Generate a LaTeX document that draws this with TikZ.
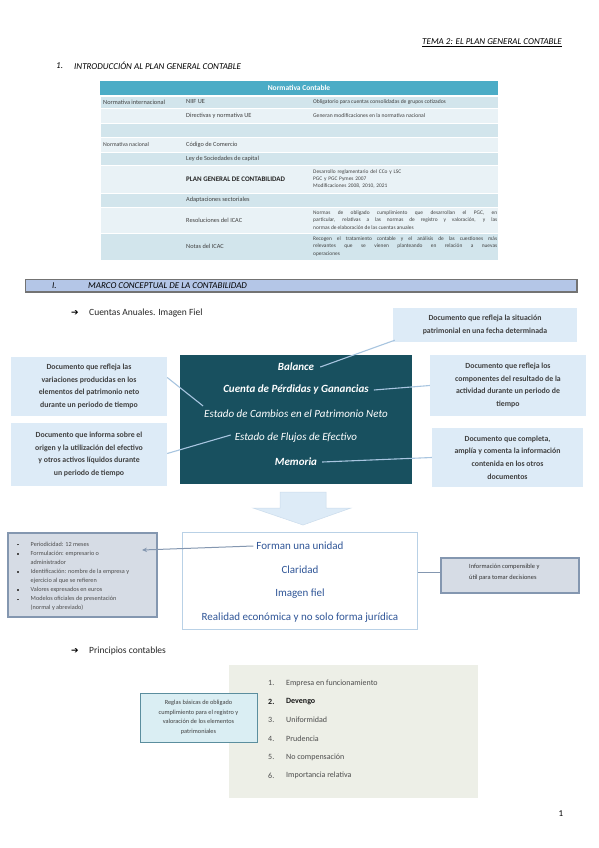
\documentclass[tikz,border=0pt]{standalone}
\usepackage{fontspec}
\setmainfont{Carlito}
\newfontfamily\symfont{DejaVu Sans}
\usetikzlibrary{arrows.meta}

\definecolor{tealhead}{HTML}{4BACC6}
\definecolor{rowdark}{HTML}{D2E5EC}
\definecolor{rowlight}{HTML}{E9F2F6}
\definecolor{barfill}{HTML}{B4C6E7}
\definecolor{calloutfill}{HTML}{DDEBF7}
\definecolor{darkteal}{HTML}{18505F}
\definecolor{linkblue}{HTML}{A8C5E0}
\definecolor{unitblue}{HTML}{2F5597}
\definecolor{slatefill}{HTML}{D6DCE5}
\definecolor{slateline}{HTML}{8497B0}
\definecolor{sagefill}{HTML}{EDEFE7}
\definecolor{reglafill}{HTML}{DAEEF3}
\definecolor{reglaline}{HTML}{5B8E9E}
\definecolor{txtgrey}{HTML}{404040}

\newcommand{\sqbul}{\rule[0.6pt]{1.5pt}{1.5pt}}

\begin{document}
\begin{tikzpicture}[x=1pt,y=-1pt,
    tabrow/.style={draw=white,line width=0.7pt},
    tabtxt/.style={anchor=west,inner sep=0pt,text=txtgrey,font=\fontsize{6.3}{7.5}\selectfont},
    tabnote/.style={anchor=west,inner sep=0pt,text=txtgrey,text width=184pt,align=justify,font=\fontsize{5.4}{7.4}\selectfont},
    callout/.style={fill=calloutfill,inner sep=0pt,align=center,text=black!75,font=\fontsize{7.8}{12.7}\selectfont\bfseries},
    doc/.style={inner sep=1pt,text=white,font=\fontsize{11}{13}\selectfont\itshape},
    link/.style={draw=linkblue,line width=1.1pt},
    rasgo/.style={inner sep=0pt,text=unitblue,font=\fontsize{11}{13}\selectfont},
    slatebox/.style={fill=slatefill,draw=slateline,line width=1.6pt,inner sep=0pt},
    principio/.style={anchor=west,inner sep=0pt,text=black!70,font=\fontsize{8}{10}\selectfont},
    heading/.style={anchor=west,inner sep=0pt,font=\fontsize{9}{11}\selectfont\itshape},
    arrowhead/.style={anchor=west,inner sep=0pt,font=\symfont\fontsize{9}{11}\selectfont}]

    \fill[white] (0,0) rectangle (599,848);
    \useasboundingbox (0,0) rectangle (599,848);

    % cabecera
    \node[heading,anchor=east] (tema) at (562,43) {\underline{TEMA 2: EL PLAN GENERAL CONTABLE}};
    \node[heading] (intronum) at (56,66) {1.};
    \node[heading] (intro) at (74,66) {INTRODUCCIÓN AL PLAN GENERAL CONTABLE};

    % tabla normativa
    \fill[tealhead] (100,81) rectangle (498,95.5);
    \node[inner sep=0pt,text=white,font=\fontsize{7.5}{9}\selectfont\bfseries] (normhead) at (299,88.3) {Normativa Contable};
    \path[tabrow,fill=rowdark] (100,96) rectangle (498,108);
    \path[tabrow,fill=rowlight] (100,108) rectangle (498,123);
    \path[tabrow,fill=rowdark] (100,123) rectangle (498,137);
    \path[tabrow,fill=rowlight] (100,137) rectangle (498,152);
    \path[tabrow,fill=rowdark] (100,152) rectangle (498,165);
    \path[tabrow,fill=rowlight] (100,165) rectangle (498,193);
    \path[tabrow,fill=rowdark] (100,193) rectangle (498,207);
    \path[tabrow,fill=rowlight] (100,207) rectangle (498,233);
    \path[tabrow,fill=rowdark] (100,233) rectangle (498,260);

    \node[tabtxt] (ninter) at (103,102) {Normativa internacional};
    \node[tabtxt] (niif) at (186,102) {NIIF UE};
    \node[tabtxt,font=\fontsize{5.6}{7.4}\selectfont] (niifnota) at (313,102) {Obligatorio para cuentas consolidadas de grupos cotizados};
    \node[tabtxt] (direct) at (186,115.5) {Directivas y normativa UE};
    \node[tabtxt,font=\fontsize{5.6}{7.4}\selectfont] (directnota) at (313,115.5) {Generan modificaciones en la normativa nacional};
    \node[tabtxt,font=\fontsize{5.8}{7.4}\selectfont] (nnac) at (103,144.5) {Normativa nacional};
    \node[tabtxt] (ccom) at (186,144.5) {Código de Comercio};
    \node[tabtxt] (lsc) at (186,158.5) {Ley de Sociedades de capital};
    \node[tabtxt,font=\fontsize{7}{8}\selectfont\bfseries,text=black!85] (pgc) at (186,179) {PLAN GENERAL DE CONTABILIDAD};
    \node[tabnote,align=left] (pgcnota) at (313,179) {Desarrollo reglamentario del CCo y LSC\\PGC y PGC Pymes 2007\\Modificaciones 2008, 2010, 2021};
    \node[tabtxt] (adapt) at (186,200) {Adaptaciones sectoriales};
    \node[tabtxt] (resol) at (186,220) {Resoluciones del ICAC};
    \node[tabnote] (resolnota) at (313,220) {Normas de obligado cumplimiento que desarrollan el PGC, en\linebreak particular, relativas a las normas de registro y valoración, y las\linebreak normas de elaboración de las cuentas anuales};
    \node[tabtxt] (notas) at (186,246.5) {Notas del ICAC};
    \node[tabnote] (notasnota) at (313,246.5) {Recogen el tratamiento contable y el análisis de las cuestiones más\linebreak relevantes que se vienen planteando en relación a nuevas\linebreak operaciones};

    % marco conceptual
    \path[fill=barfill,draw=black!55,line width=0.6pt] (25,279) rectangle (577,292);
    \draw[black!55,line width=1.3pt] (25,292) -- (577,292) -- (577,279);
    \node[heading] (marconum) at (52,285.5) {I.};
    \node[heading] (marco) at (88,285.5) {MARCO CONCEPTUAL DE LA CONTABILIDAD};

    \node[arrowhead] (flecha1) at (71,313) {➔};
    \node[anchor=west,inner sep=0pt,font=\fontsize{9.5}{11}\selectfont,text=black!85] (cuentas) at (89,313) {Cuentas Anuales. Imagen Fiel};

    % cuentas anuales
    \node[fill=darkteal,minimum width=232pt,minimum height=129pt,inner sep=0pt] (cuadro) at (296,419.5) {};
    \node[doc,font=\fontsize{11}{13}\selectfont\bfseries\itshape] (bal) at (296,367) {Balance};
    \node[doc,font=\fontsize{11}{13}\selectfont\bfseries\itshape] (pyg) at (296,390) {Cuenta de Pérdidas y Ganancias};
    \node[doc] (ecpn) at (296,414) {Estado de Cambios en el Patrimonio Neto};
    \node[doc] (efe) at (296,438) {Estado de Flujos de Efectivo};
    \node[doc,font=\fontsize{11}{13}\selectfont\bfseries\itshape] (mem) at (296,462) {Memoria};

    \node[callout,minimum width=184pt,minimum height=34pt] (cbal) at (485,325) {Documento que refleja la situación\\patrimonial en una fecha determinada};
    \node[callout,minimum width=156pt,minimum height=61pt] (cpyg) at (508,385.5) {Documento que refleja los\\componentes del resultado de la\\actividad durante un periodo de\\tiempo};
    \node[callout,minimum width=151pt,minimum height=59pt] (cmem) at (507.5,457.5) {Documento que completa,\\amplía y comenta la información\\contenida en los otros\\documentos};
    \node[callout,minimum width=156pt,minimum height=59pt] (cecpn) at (89,386.5) {Documento que refleja las\\variaciones producidas en los\\elementos del patrimonio neto\\durante un periodo de tiempo};
    \node[callout,minimum width=156pt,minimum height=63pt] (cefe) at (89,454.5) {Documento que informa sobre el\\origen y la utilización del efectivo\\y otros activos líquidos durante\\un periodo de tiempo};

    \draw[link] ([xshift=5pt]bal.east) -- ([xshift=2pt,yshift=2pt]cbal.south west);
    \draw[link] ([xshift=4pt]pyg.east) -- (cpyg.west);
    \draw[link] ([yshift=9pt]cecpn.east) -- ([yshift=3pt]ecpn.north west);
    \draw[link] ([yshift=1pt]cefe.east) -- ([xshift=-3pt,yshift=3pt]efe.west);
    \draw[link] ([xshift=4pt]mem.east) -- (cmem.west);

    % flecha hacia abajo
    \filldraw[fill=calloutfill,draw=linkblue!60,line width=0.5pt] (280,492) -- (326,492) -- (326,508) -- (351,508) -- (303,525) -- (253,508) -- (280,508) -- cycle;

    % caracteristicas
    \node[draw=linkblue!80,line width=1pt,fill=white,minimum width=235pt,minimum height=97pt,inner sep=0pt] (unidad) at (299.5,580.5) {};
    \node[rasgo] (forman) at (300,546) {Forman una unidad};
    \node[rasgo] (claridad) at (300,570) {Claridad};
    \node[rasgo] (imagen) at (300,594) {Imagen fiel};
    \node[rasgo] (realidad) at (300,618) {Realidad económica y no solo forma jurídica};

    \node[slatebox,minimum width=149pt,minimum height=84pt] (formal) at (82.5,575) {};
    \node[anchor=north west,inner sep=0pt,text=black!70,font=\fontsize{6.2}{9.1}\selectfont] (formaltxt) at (17,539.5) {%
      \begin{tabular}{@{}l@{\hspace{12pt}}l@{}}
        \sqbul & Periodicidad: 12 meses\\
        \sqbul & Formulación: empresario o\\
               & administrador\\
        \sqbul & Identificación: nombre de la empresa y\\
               & ejercicio al que se refieren\\
        \sqbul & Valores expresados en euros\\
        \sqbul & Modelos oficiales de presentación\\
               & (normal y abreviado)
      \end{tabular}};
    \coordinate (formalpunta) at (142,550);
    \draw[-{Stealth[length=5pt,width=4.5pt]},draw=slateline,line width=1pt] ([xshift=-3pt]forman.west) -- (formalpunta);

    \node[slatebox,minimum width=138pt,minimum height=35pt] (decision) at (510,575.5) {};
    \node[anchor=west,inner sep=0pt,align=left,text=black!80,font=\fontsize{6.4}{11}\selectfont] (decisiontxt) at (469,572.5) {Información compensible y\\útil para tomar decisiones};
    \draw[draw=slateline,line width=1pt] (unidad.east |- decisiontxt.west) -- (decision.west |- decisiontxt.west);

    % principios contables
    \node[arrowhead] (flecha2) at (71,651) {➔};
    \node[anchor=west,inner sep=0pt,font=\fontsize{9.5}{11}\selectfont,text=black!85] (principios) at (89,651) {Principios contables};

    \fill[sagefill] (229,665) rectangle (478,798);
    \node[principio] (n1) at (268,683) {1.};
    \node[principio] (p1) at (286,683) {Empresa en funcionamiento};
    \node[principio,font=\fontsize{8}{10}\selectfont\bfseries,text=black!90] (n2) at (268,701.5) {2.};
    \node[principio,font=\fontsize{8}{10}\selectfont\bfseries,text=black!90] (p2) at (286,701.5) {Devengo};
    \node[principio] (n3) at (268,720) {3.};
    \node[principio] (p3) at (286,720) {Uniformidad};
    \node[principio] (n4) at (268,738.5) {4.};
    \node[principio] (p4) at (286,738.5) {Prudencia};
    \node[principio] (n5) at (268,757) {5.};
    \node[principio] (p5) at (286,757) {No compensación};
    \node[principio] (n6) at (268,775.5) {6.};
    \node[principio] (p6) at (286,775.5) {Importancia relativa};

    \node[fill=reglafill,draw=reglaline,line width=0.8pt,minimum width=117pt,minimum height=49pt,inner sep=0pt,align=center,text=black!75,font=\fontsize{6.3}{9.5}\selectfont] (reglas) at (198.5,717.5) {Reglas básicas de obligado\\cumplimiento para el registro y\\valoración de los elementos\\patrimoniales};

    \node[inner sep=0pt,font=\fontsize{9}{11}\selectfont] (pagina) at (561,814) {1};
\end{tikzpicture}
\end{document}
